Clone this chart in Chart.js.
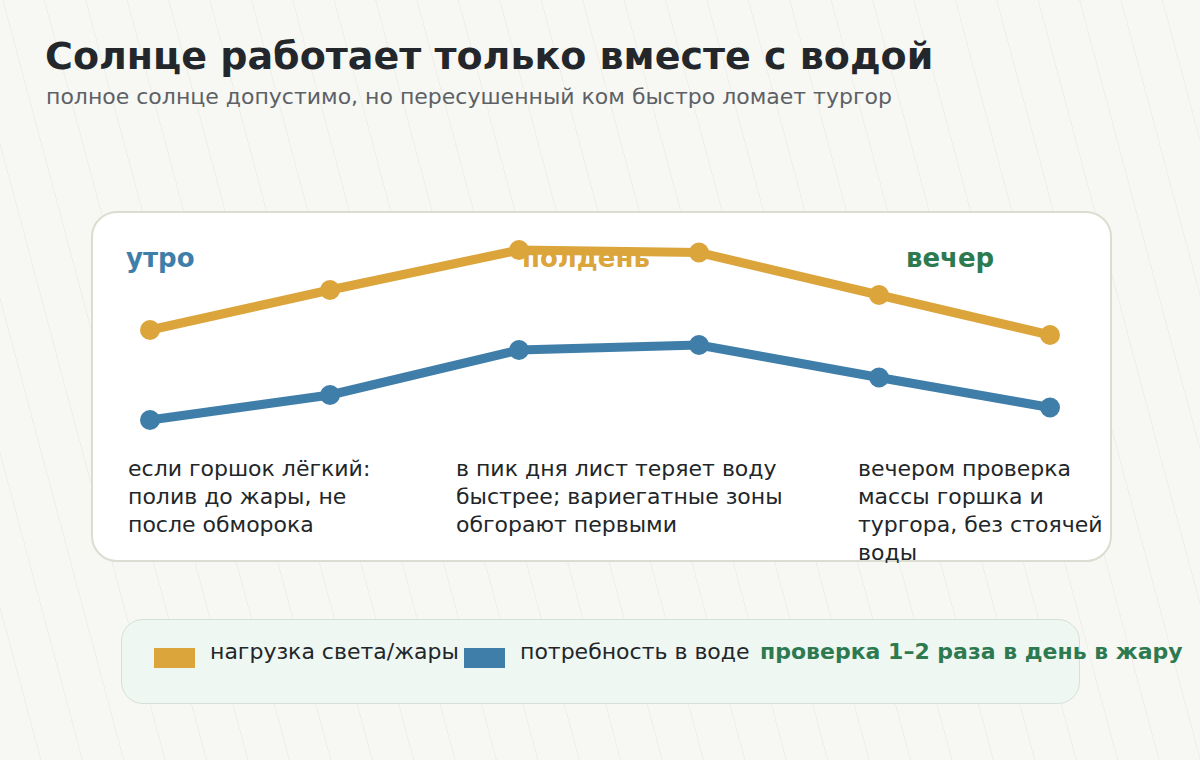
<!DOCTYPE html>
<html lang="ru">
<head>
<meta charset="utf-8">
<title>Солнце работает только вместе с водой</title>
<script src="https://cdn.jsdelivr.net/npm/chart.js@4.4.1/dist/chart.umd.min.js"></script>
<style>
  html, body { margin: 0; padding: 0; }
  body {
    width: 1200px; height: 760px; position: relative; overflow: hidden;
    font-family: "DejaVu Sans", sans-serif;
    background-color: #f7f8f4;
    background-image: repeating-linear-gradient(75deg, rgba(0,0,0,0) 0px, rgba(0,0,0,0) 39px, rgba(0,0,0,0.035) 39px, rgba(0,0,0,0.035) 40px);
  }
  h1 { position: absolute; left: 45px; top: 34px; margin: 0; font-size: 38px; font-weight: bold; color: #23272b; white-space: nowrap; }
  .sub { position: absolute; left: 46px; top: 84px; font-size: 22px; color: #5d6166; white-space: nowrap; }
  .card { position: absolute; left: 91px; top: 211px; width: 1017px; height: 347px; background: #fff; border: 2px solid #dcdcd0; border-radius: 26px; }
  .phase { position: absolute; top: 243px; font-size: 26px; font-weight: bold; white-space: nowrap; }
  .note { position: absolute; top: 455px; font-size: 22px; line-height: 28px; color: #222629; }
  .legend { position: absolute; left: 121px; top: 619px; width: 957px; height: 83px; background: #eff7f2; border: 1px solid #d6e0d9; border-radius: 22px; }
  .sw { position: absolute; top: 648px; width: 41px; height: 20px; }
  .lt { position: absolute; top: 639px; font-size: 22px; color: #222629; white-space: nowrap; }
  #chart { position: absolute; left: 0; top: 0; pointer-events: none; }
</style>
</head>
<body>
<h1>Солнце работает только вместе с водой</h1>
<div class="sub">полное солнце допустимо, но пересушенный ком быстро ломает тургор</div>
<div class="card"></div>
<div id="labels"></div>
<div class="legend"></div>
<div id="legendItems"></div>
<canvas id="chart" width="1200" height="760"></canvas>
<script>
// время суток (часы) и значения рядов
const hours = [8, 10, 12.1, 14.1, 16.1, 18];
const heatLoad = [52, 68, 84, 83, 66, 50];
const waterNeed = [16, 26, 44, 46, 33, 21];

const seriesNames = ["нагрузка света/жары", "потребность в воде"];
const seriesColors = ["#dba53b", "#3f7ea9"];

const phases = ["утро", "полдень", "вечер"];
const phaseColors = ["#3f7ea9", "#dba53b", "#2e7a50"];
const phaseX = [126, 522, 906];

const notes = [
  "если горшок лёгкий: полив до жары, не после обморока",
  "в пик дня лист теряет воду быстрее; вариегатные зоны обгорают первыми",
  "вечером проверка массы горшка и тургора, без стоячей воды"
];
const noteX = [128, 456, 858];
const noteW = [262, 345, 262];

const tip = "проверка 1–2 раза в день в жару";

// подписи фаз и заметки
const labelsEl = document.getElementById("labels");
phases.forEach((p, i) => {
  const d = document.createElement("div");
  d.className = "phase";
  d.style.left = phaseX[i] + "px";
  d.style.color = phaseColors[i];
  d.textContent = p;
  labelsEl.appendChild(d);
});
notes.forEach((n, i) => {
  const d = document.createElement("div");
  d.className = "note";
  d.style.left = noteX[i] + "px";
  d.style.width = noteW[i] + "px";
  d.textContent = n;
  labelsEl.appendChild(d);
});

// легенда
const legendEl = document.getElementById("legendItems");
const swX = [154, 464];
seriesNames.forEach((name, i) => {
  const s = document.createElement("div");
  s.className = "sw";
  s.style.left = swX[i] + "px";
  s.style.background = seriesColors[i];
  legendEl.appendChild(s);
  const t = document.createElement("div");
  t.className = "lt";
  t.style.left = (swX[i] + 56) + "px";
  t.textContent = name;
  legendEl.appendChild(t);
});
const tipEl = document.createElement("div");
tipEl.className = "lt";
tipEl.style.left = "760px";
tipEl.style.fontWeight = "bold";
tipEl.style.color = "#2e7a50";
tipEl.textContent = tip;
legendEl.appendChild(tipEl);

function makeSet(label, values, color) {
  return {
    label: label,
    data: hours.map((h, i) => ({ x: h, y: values[i] })),
    borderColor: color,
    backgroundColor: color,
    borderWidth: 9,
    pointRadius: 10,
    pointBorderWidth: 0,
    pointHoverRadius: 10,
    tension: 0,
    clip: false
  };
}

new Chart(document.getElementById("chart").getContext("2d"), {
  type: "line",
  data: {
    datasets: [
      makeSet(seriesNames[0], heatLoad, seriesColors[0]),
      makeSet(seriesNames[1], waterNeed, seriesColors[1])
    ]
  },
  options: {
    responsive: false,
    animation: false,
    devicePixelRatio: 1,
    layout: { padding: { left: 150, right: 150, top: 210, bottom: 300 } },
    plugins: { legend: { display: false }, tooltip: { enabled: false }, title: { display: false } },
    scales: {
      x: { type: "linear", min: 8, max: 18, display: false },
      y: { min: 0, max: 100, display: false }
    }
  }
});
</script>
</body>
</html>
